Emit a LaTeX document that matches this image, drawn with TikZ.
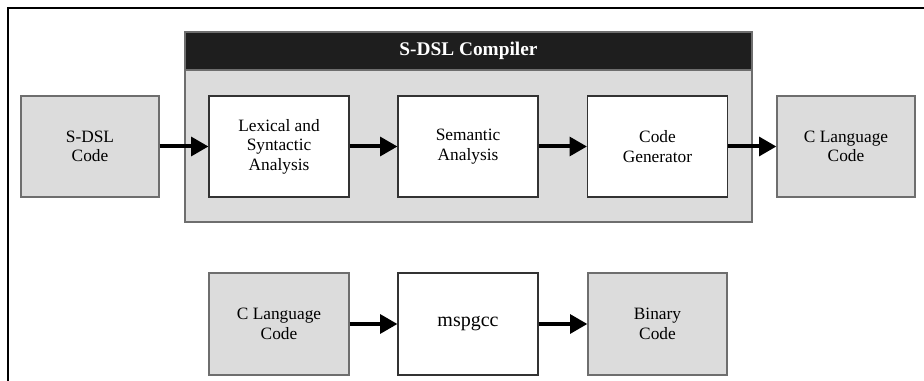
\documentclass[tikz,border=0pt]{standalone}
\usepackage{fontspec}
\setmainfont{Liberation Serif}
\usetikzlibrary{arrows.meta}
\definecolor{boxgray}{HTML}{DCDCDC}
\definecolor{edgegray}{HTML}{6E6E6E}
\definecolor{headblack}{HTML}{1E1E1E}
\begin{document}
\begin{tikzpicture}[x=0.75pt,y=-0.75pt,
  graybox/.style={draw=edgegray,line width=0.9pt,fill=boxgray,minimum width=103.5pt,minimum height=75.75pt,inner sep=0pt,align=center,font=\fontsize{13}{14.6}\selectfont},
  whitebox/.style={draw=black!80,line width=0.8pt,fill=white,minimum width=105pt,minimum height=75.75pt,inner sep=0pt,align=center,font=\fontsize{13}{14.6}\selectfont},
  flow/.style={line width=3pt,-{Triangle[length=13pt,width=14pt]}}]
\useasboundingbox (0,0) rectangle (924,381);
% frame (top and left only)
\draw[line width=1.8pt] (8,381) -- (8,8) -- (924,8);
% compiler container
\node[draw=edgegray,line width=0.9pt,fill=boxgray,minimum width=425.25pt,minimum height=142.5pt,inner sep=0pt] (comp) at (468.5,127) {};
\node[draw=edgegray,line width=0.9pt,fill=headblack,minimum width=425.25pt,minimum height=28.5pt,inner sep=0pt,text=white,font=\fontsize{14.5}{16}\selectfont\bfseries] (head) at (468.5,51) {S-DSL Compiler};
% top row
\node[graybox] (sdsl) at (90,146.5) {S-DSL\\Code};
\node[whitebox] (lex) at (279,146.5) {Lexical and\\Syntactic\\Analysis};
\node[whitebox] (sem) at (468,146.5) {Semantic\\Analysis};
\node[whitebox] (gen) at (657.5,146.5) {Code\\Generator};
\node[graybox] (cout) at (846,146.5) {C Language\\Code};
% bottom row
\node[graybox,minimum width=105pt,minimum height=76.5pt] (cin) at (279,324) {C Language\\Code};
\node[whitebox,minimum height=76.5pt,font=\fontsize{15}{17}\selectfont] (msp) at (468,324) {mspgcc};
\node[graybox,minimum width=104.25pt,minimum height=76.5pt] (bin) at (657.5,324) {Binary\\Code};
% connectors
\draw[flow] (sdsl) -- (lex);
\draw[flow] (lex) -- (sem);
\draw[flow] (sem) -- (gen);
\draw[flow] (gen) -- (cout);
\draw[flow] (cin) -- (msp);
\draw[flow] (msp) -- (bin);
\end{tikzpicture}
\end{document}
